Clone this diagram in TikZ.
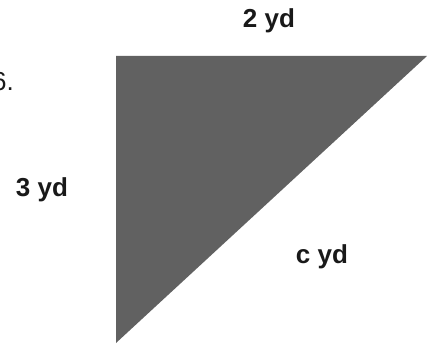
\documentclass[tikz,border=0pt]{standalone}
\usepackage{fontspec}
\setmainfont{Liberation Sans}
\usetikzlibrary{positioning}

\begin{document}
\begin{tikzpicture}[x=1pt, y=1pt,
    lbl/.style={font=\fontsize{26}{30}\selectfont\bfseries, inner sep=0pt, text=black!90},
    plate/.style={fill=black!62, draw=none}
]
\useasboundingbox (0,0) rectangle (427,345);
\clip (0,0) rectangle (427,345);

% --- triangle corners ---
\coordinate (tl) at (116,289);
\coordinate (tr) at (427,289);
\coordinate (bl) at (116,2);

% --- shaded right triangle ---
\fill[plate] (tl) -- (tr) -- (bl) -- cycle;

% --- side labels ---
\node[lbl] (top) at (269,324) {2 yd};
\node[lbl] (left) at (42,155) {3 yd};
\node[lbl] (hyp) at (322,88) {c yd};

% --- exercise number (cut at the edge) ---
\node[lbl, font=\fontsize{26}{30}\selectfont, anchor=east] (num) at (14,263) {6.};

\end{tikzpicture}
\end{document}
